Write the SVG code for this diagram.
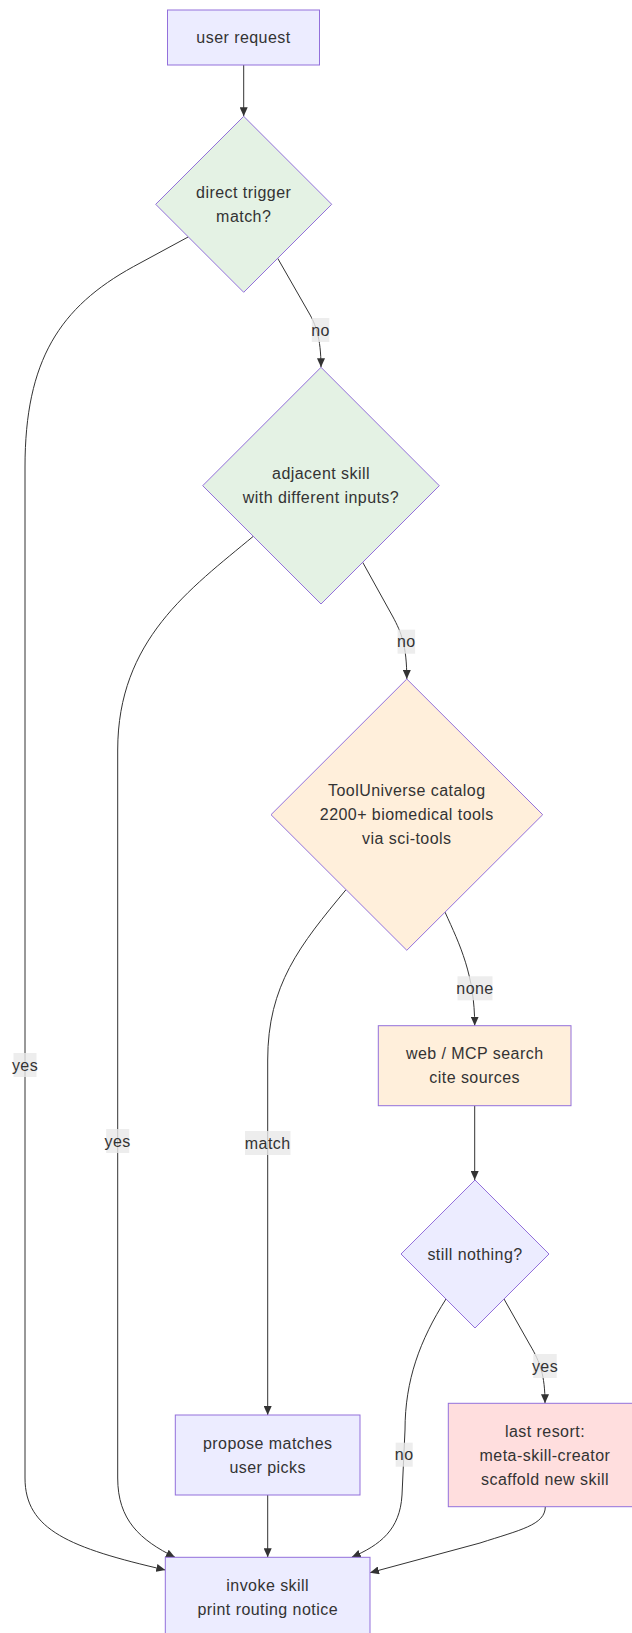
<svg xmlns="http://www.w3.org/2000/svg" width="632" height="1633" viewBox="0 0 632 1633">
<style>
  text { font-family: "Trebuchet MS", "Liberation Sans", Arial, sans-serif; font-size: 16px; letter-spacing: 0.45px; fill: #333; text-anchor: middle; dominant-baseline: central; }
  .node { stroke: #9370DB; stroke-width: 1; }
  .def { fill: #ECECFF; }
  .green { fill: #E4F2E4; }
  .orange { fill: #FFEFDB; }
  .pink { fill: #FFDEDE; }
  .edge { fill: none; stroke: #333; stroke-width: 1; marker-end: url(#arrow); }
  .lbl { fill: #E8E8E8; fill-opacity: 0.8; }
</style>
<defs>
  <marker id="arrow" viewBox="0 0 9 8" refX="9" refY="4" markerWidth="9" markerHeight="8" markerUnits="userSpaceOnUse" orient="auto">
    <path d="M0,0 L9,4 L0,8 z" fill="#333"/>
  </marker>
</defs>
<rect width="632" height="1633" fill="#fff"/>
<g id="connectors">
  <path class="edge" d="M243.7,65 L243.7,116.3"/>
  <path class="edge" d="M277.7,258.3 L309,313 C315.3,324 321,337 321,367.3"/>
  <path class="edge" d="M188.3,236.9 L133.3,266.7 C60,307 25,360 25,467 L25,1478 C25,1530 70,1548 165.3,1570"/>
  <path class="edge" d="M253.3,536.3 C190,589 117.7,640 117.7,750 L117.7,1478 C117.7,1520 140,1540 175,1557.3"/>
  <path class="edge" d="M362.7,562.3 L393,617 C401,632 406.8,645 406.8,679"/>
  <path class="edge" d="M346,889.7 C300,945 267.7,985 267.7,1060 L267.7,1415"/>
  <path class="edge" d="M445,912.1 C460,945 474.7,975 474.7,1025.7"/>
  <path class="edge" d="M474.7,1105.7 L474.7,1180"/>
  <path class="edge" d="M504,1299 L530,1345 C540,1362 545,1375 545,1403.3"/>
  <path class="edge" d="M446,1299 C420,1340 405,1380 405,1430 L402,1495 C400,1530 380,1545 351.7,1557.3"/>
  <path class="edge" d="M267.7,1495 L267.7,1557.3"/>
  <path class="edge" d="M545.3,1506.7 C545.3,1525 520,1530 480,1543 L370,1572.7"/>
  <g id="edge-labels">
    <rect class="lbl" x="311.8" y="318" width="17.5" height="24"/><text x="320.5" y="330">no</text>
    <rect class="lbl" x="397.6" y="629.7" width="17.5" height="24"/><text x="406.3" y="641.7">no</text>
    <rect class="lbl" x="457.5" y="976.3" width="35" height="24"/><text x="475" y="988.3">none</text>
    <rect class="lbl" x="13.5" y="1053" width="23" height="24"/><text x="25" y="1065">yes</text>
    <rect class="lbl" x="106.2" y="1129" width="23" height="24"/><text x="117.7" y="1141">yes</text>
    <rect class="lbl" x="245" y="1131" width="45.5" height="24"/><text x="267.7" y="1143">match</text>
    <rect class="lbl" x="533.3" y="1354" width="23.4" height="24"/><text x="545" y="1366">yes</text>
    <rect class="lbl" x="395.7" y="1442.7" width="17" height="24"/><text x="404.2" y="1454.7">no</text>
  </g>
</g>
<g id="user-request">
  <rect class="node def" x="167.5" y="10" width="152" height="55"/>
  <text x="243.5" y="37.5">user request</text>
</g>
<g id="direct-trigger">
  <polygon class="node green" points="243.7,116.3 331.7,204.3 243.7,292.3 155.7,204.3"/>
  <text x="243.7" y="192">direct trigger</text>
  <text x="243.7" y="216">match?</text>
</g>
<g id="adjacent-skill">
  <polygon class="node green" points="321,367.3 439.3,485.7 321,604 202.7,485.7"/>
  <text x="321" y="473.5">adjacent skill</text>
  <text x="321" y="497.5">with different inputs?</text>
</g>
<g id="tooluniverse">
  <polygon class="node orange" points="406.8,679 542.7,814.7 406.8,950.3 271,814.7"/>
  <text x="406.8" y="790.7">ToolUniverse catalog</text>
  <text x="406.8" y="814.7">2200+ biomedical tools</text>
  <text x="406.8" y="838.7">via sci-tools</text>
</g>
<g id="web-search">
  <rect class="node orange" x="378.3" y="1025.7" width="192.7" height="80"/>
  <text x="474.7" y="1053.7">web / MCP search</text>
  <text x="474.7" y="1077.7">cite sources</text>
</g>
<g id="still-nothing">
  <polygon class="node def" points="475,1180 549,1254 475,1328 401,1254"/>
  <text x="475" y="1254">still nothing?</text>
</g>
<g id="propose-matches">
  <rect class="node def" x="175.3" y="1415" width="184.7" height="80"/>
  <text x="267.7" y="1443">propose matches</text>
  <text x="267.7" y="1467">user picks</text>
</g>
<g id="last-resort">
  <rect class="node pink" x="448.3" y="1403.3" width="193.4" height="103.4"/>
  <text x="545" y="1431">last resort:</text>
  <text x="545" y="1455">meta-skill-creator</text>
  <text x="545" y="1479">scaffold new skill</text>
</g>
<g id="invoke-skill">
  <rect class="node def" x="165.3" y="1557.3" width="204.7" height="80"/>
  <text x="267.7" y="1585.3">invoke skill</text>
  <text x="267.7" y="1609.3">print routing notice</text>
</g>
</svg>
